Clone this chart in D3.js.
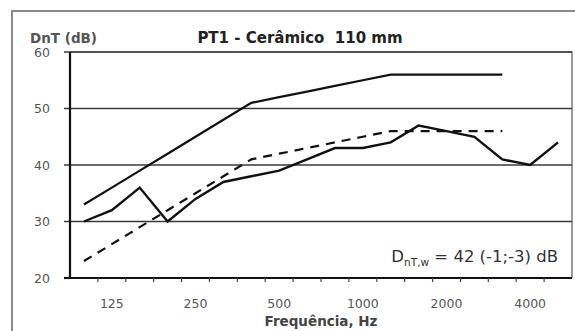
<!DOCTYPE html>
<html>
<head>
<meta charset="utf-8">
<script src="https://cdn.jsdelivr.net/npm/d3@7"></script>
<style>
  body { margin: 0; background: #fff; }
  svg { display: block; }
</style>
</head>
<body>
<svg id="chart" width="575" height="331"></svg>
<script>
const bands = ["100", "125", "160", "200", "250", "315", "400", "500", "630",
  "800", "1000", "1250", "1600", "2000", "2500", "3150", "4000", "5000"];
const tickLabels = ["125", "250", "500", "1000", "2000", "4000"];
const yTicks = [20, 30, 40, 50, 60];

// measured DnT
const measured = [30, 32, 36, 30, 34, 37, 38, 39, 41, 43, 43, 44, 47, 46, 45, 41, 40, 44];
// reference curve (100 - 3150 Hz)
const reference = [33, 36, 39, 42, 45, 48, 51, 52, 53, 54, 55, 56, 56, 56, 56, 56];
// shifted reference curve
const shifted = [23, 26, 29, 32, 35, 38, 41, 42, 43, 44, 45, 46, 46, 46, 46, 46];

const svg = d3.select("#chart");
const width = +svg.attr("width");
const height = +svg.attr("height");
const plot = { left: 70, right: 572, top: 52, bottom: 278 };
const font = "DejaVu Sans, Verdana, sans-serif";

const x = d3.scaleBand().domain(bands).range([plot.left, plot.right]);
const y = d3.scaleLinear().domain([20, 60]).range([plot.bottom, plot.top]);
const cx = d => x(d) + x.bandwidth() / 2;

// outer frame (only left and top edges are visible)
svg.append("path")
  .attr("d", `M12,${height}V11H${width}`)
  .attr("fill", "none")
  .attr("stroke", "#8a8a8a")
  .attr("stroke-width", 2);

// plot border (top/right)
svg.append("path")
  .attr("d", `M${plot.left},${plot.top}H${plot.right}V${plot.bottom}`)
  .attr("fill", "none")
  .attr("stroke", "#7a7a7a")
  .attr("stroke-width", 1.5);

// grid + y ticks
svg.append("g")
  .selectAll("line")
  .data(yTicks)
  .join("line")
  .attr("x1", plot.left - 6)
  .attr("x2", d => (d > 20 ? plot.right : plot.left))
  .attr("y1", d => y(d))
  .attr("y2", d => y(d))
  .attr("stroke", "#3a3a3a")
  .attr("stroke-width", 1.6);

svg.append("g")
  .selectAll("text")
  .data(yTicks)
  .join("text")
  .attr("x", plot.left - 20)
  .attr("y", d => y(d) + 4.5)
  .attr("text-anchor", "end")
  .attr("font-family", font)
  .attr("font-size", 12.5)
  .attr("fill", "#555")
  .text(d => d);

// axes lines
svg.append("path")
  .attr("d", `M${plot.left},${plot.top}V${plot.bottom}H${plot.right}`)
  .attr("fill", "none")
  .attr("stroke", "#111")
  .attr("stroke-width", 2.2);
svg.append("line")
  .attr("x1", plot.left - 6)
  .attr("x2", plot.left)
  .attr("y1", plot.bottom)
  .attr("y2", plot.bottom)
  .attr("stroke", "#111")
  .attr("stroke-width", 2.2);

// x ticks at band boundaries
svg.append("g")
  .selectAll("line")
  .data(bands.slice(1))
  .join("line")
  .attr("x1", d => x(d))
  .attr("x2", d => x(d))
  .attr("y1", plot.bottom)
  .attr("y2", plot.bottom + 4)
  .attr("stroke", "#444")
  .attr("stroke-width", 1.2);

svg.append("g")
  .selectAll("text")
  .data(tickLabels)
  .join("text")
  .attr("x", d => cx(d))
  .attr("y", plot.bottom + 30)
  .attr("text-anchor", "middle")
  .attr("font-family", font)
  .attr("font-size", 12.5)
  .attr("fill", "#555")
  .text(d => d);

// lines
const line = d3.line().x((d, i) => cx(bands[i])).y(d => y(d));

svg.append("path")
  .datum(shifted)
  .attr("d", line)
  .attr("fill", "none")
  .attr("stroke", "#111")
  .attr("stroke-width", 2.2)
  .attr("stroke-dasharray", "9,7");

svg.append("path")
  .datum(reference)
  .attr("d", line)
  .attr("fill", "none")
  .attr("stroke", "#111")
  .attr("stroke-width", 2.2);

svg.append("path")
  .datum(measured)
  .attr("d", line)
  .attr("fill", "none")
  .attr("stroke", "#111")
  .attr("stroke-width", 2.4);

// texts
svg.append("text")
  .attr("x", 30)
  .attr("y", 43)
  .attr("font-family", font)
  .attr("font-weight", "bold")
  .attr("font-size", 13.5)
  .attr("fill", "#555")
  .text("DnT (dB)");

svg.append("text")
  .attr("x", 300)
  .attr("y", 43)
  .attr("text-anchor", "middle")
  .attr("font-family", font)
  .attr("font-weight", "bold")
  .attr("font-size", 15)
  .attr("fill", "#222")
  .text("PT1 - Cerâmico\u00a0 110 mm");

svg.append("text")
  .attr("x", 321)
  .attr("y", 326)
  .attr("text-anchor", "middle")
  .attr("font-family", font)
  .attr("font-weight", "bold")
  .attr("font-size", 13.5)
  .attr("fill", "#444")
  .text("Frequência, Hz");

const note = svg.append("text")
  .attr("x", 558)
  .attr("y", 262)
  .attr("text-anchor", "end")
  .attr("font-family", font)
  .attr("font-size", 16.5)
  .attr("fill", "#333");
note.append("tspan").text("D");
note.append("tspan").attr("font-size", 10.5).attr("dy", 4).text("nT,w");
note.append("tspan").attr("dy", -4).text(" = 42 (-1;-3) dB");
</script>
</body>
</html>
